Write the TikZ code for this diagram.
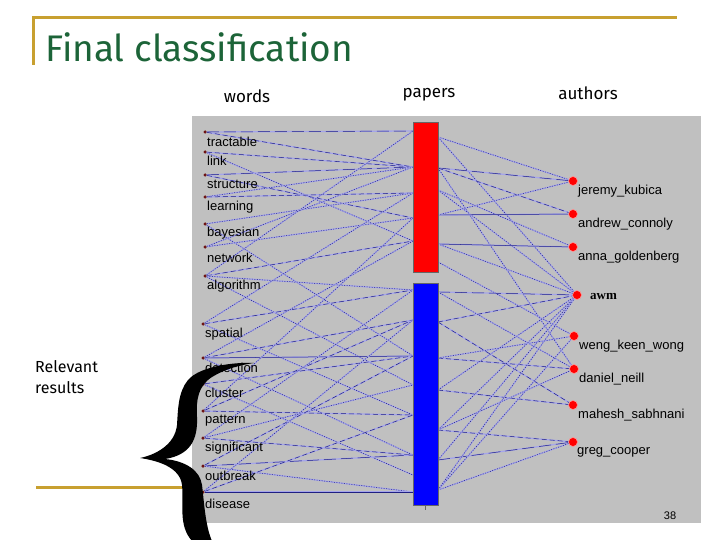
\documentclass[tikz,border=0pt]{standalone}
\usepackage{fontspec}
\setmainfont{Liberation Sans}
\newfontfamily\headfont{Fira Sans}
\newfontfamily\awmfont{Liberation Serif}
\definecolor{gold}{RGB}{200,160,48}
\definecolor{titlegreen}{RGB}{28,100,56}
\definecolor{panel}{RGB}{192,192,192}
\definecolor{navy}{RGB}{30,30,130}
\definecolor{lav}{RGB}{165,165,235}
\definecolor{dotred}{RGB}{110,20,20}
\tikzset{
  edge/.style={draw=navy, line width=0.5pt, preaction={draw=lav, solid, line width=1.3pt}},
  edot/.style={edge, dash pattern=on 1pt off 1.5pt},
  edash/.style={edge, dash pattern=on 5pt off 3pt},
  elong/.style={edge, dash pattern=on 12pt off 5pt},
  esolid/.style={edge},
  wdot/.style={circle, fill=dotred, inner sep=0pt, minimum size=3.5pt},
  wlabel/.style={anchor=west, inner sep=1pt, font=\fontsize{13}{13}\selectfont},
  adot/.style={circle, fill=red, draw=red!40!white, line width=0.6pt, inner sep=0pt, minimum size=9pt},
  alabel/.style={anchor=west, inner sep=1pt, font=\fontsize{13}{13}\selectfont},
  head/.style={font=\headfont\fontsize{17}{17}\selectfont, inner sep=0pt},
  barbox/.style={draw=black!60, line width=0.8pt, minimum width=25pt, inner sep=0pt}
}
\begin{document}
\begin{tikzpicture}[x=1pt,y=-1pt]
\useasboundingbox (0,0) rectangle (720,540);
\fill[white] (0,0) rectangle (720,540);
% gray panel
\fill[panel] (192,116) rectangle (701,523);
% bar attachment coordinates
\foreach \n/\y in {R1/131,R2/167,R3/193,R4/218,R5/241,R6/262,B1/290,B2/320,B3/356,B4/385,B5/415,B6/455,B7/475,B8/492}
  \coordinate (\n) at (413,\y);
\foreach \n/\y in {r1/137,r2/168,r3/190,r4/215,r5/244,r6/262,b1/292,b2/322,b3/358,b4/390,b5/430,b6/460,b7/490}
  \coordinate (\n) at (438,\y);
% word dots
\foreach \n/\x/\y in {w1/205/132,w2/205/152,w3/205/175,w4/205/197,w5/205/224,w6/205/247,w7/205/276,
  w8/203/324,w9/203/358,w10/203/384,w11/203/411,w12/203/438,w13/203/466,w14/203/492}
  \node[wdot] (\n) at (\x,\y) {};
% author dots
\node[adot] (J) at (573,181) {};
\node[adot] (A) at (573,214) {};
\node[adot] (AG) at (573,247) {};
\node[adot] (AWM) at (577,295) {};
\node[adot] (W) at (574,336) {};
\node[adot] (D) at (574,369) {};
\node[adot] (M) at (573,405) {};
\node[adot] (G) at (573,442) {};
% word -> bar edges
\foreach \a/\b/\s in {w1/R1/elong,w1/R2/edash,w2/R2/edash,w2/R5/edot,w3/R2/elong,w3/R4/edash,
  w4/R2/edot,w4/R3/edash,w5/R3/edot,w5/B3/edot,w6/R4/edot,w6/R2/edot,
  w7/R1/edot,w7/R5/edash,w7/B1/edot,w7/B4/edot,
  w8/B1/edash,w8/R3/edot,w8/B5/edot,
  w9/B3/esolid,w9/B2/edash,w9/R5/edot,w9/B6/edot,
  w10/B3/edash,w10/B7/edot,
  w11/B5/edash,w11/R4/edot,w11/B2/edash,
  w12/B6/edash,w12/B4/edot,w12/B1/edot,
  w13/B6/elong,w13/B3/edash,w13/B8/edot,
  w14/B8/esolid,w14/B5/edash,w14/B2/edot}
  \draw[\s] (\a) -- (\b);
% bar -> author edges
\foreach \a/\b/\s in {r1/J/edot,r1/AWM/edot,r2/J/elong,r2/D/edot,r2/A/edash,r3/AG/edot,r3/AWM/edot,
  r4/A/esolid,r4/J/edot,r5/AG/esolid,r5/AWM/edot,r6/W/edot,
  b1/AWM/elong,b1/D/edot,b2/AWM/edash,b2/M/edash,b3/W/edot,b3/D/edash,
  b4/AWM/edot,b4/M/edash,b5/D/edot,b5/G/edash,b5/AWM/edot,
  b6/AWM/edot,b6/G/elong,b7/G/edot,b7/W/edot,b7/AWM/edot}
  \draw[\s] (\a) -- (\b);
% bars
\node[barbox, fill=red, minimum height=150pt] (red) at (425.5,197) {};
\node[barbox, fill=blue, minimum height=222pt] (blue) at (425.5,394) {};
\draw[black!60, line width=0.6pt] (blue.south) -- ++(0,5);
% word labels
\foreach \t/\y in {tractable/142,link/161,structure/184,learning/207,bayesian/233,network/258,algorithm/286}
  \node[wlabel] at (206,\y) {\t};
\foreach \t/\y in {spatial/334,detection/368,cluster/393,pattern/421,significant/448,outbreak/476,disease/504}
  \node[wlabel] at (204,\y) {\t};
% author labels
\node[alabel] (lJ) at (577,191) {jeremy\_kubica};
\node[alabel] (lA) at (577,224) {andrew\_connoly};
\node[alabel] (lAG) at (577,257) {anna\_goldenberg};
\node[alabel, font=\awmfont\bfseries\fontsize{13}{13}\selectfont] (lAWM) at (589,296) {awm};
\node[alabel] (lW) at (578,346) {weng\_keen\_wong};
\node[alabel] (lD) at (578,379) {daniel\_neill};
\node[alabel] (lM) at (577,415) {mahesh\_sabhnani};
\node[alabel] (lG) at (576,452) {greg\_cooper};
% gold frame lines
\draw[gold, line width=3pt] (33,18) -- (677,18);
\draw[gold, line width=3pt] (33,16.5) -- (33,65);
\draw[gold, line width=3pt] (36,487) -- (190,487);
% brace
\fill[black] (254,363) .. controls (235,362) and (200,366) .. (188,380)
  .. controls (178,392) and (178,410) .. (177,425)
  .. controls (175,445) and (155,455) .. (140,458)
  .. controls (160,461) and (180,468) .. (182,485)
  .. controls (184,505) and (178,525) .. (192,541)
  -- (212,541)
  .. controls (205,525) and (204,500) .. (202,485)
  .. controls (200,470) and (185,461) .. (165,459)
  .. controls (190,455) and (198,440) .. (197,417)
  .. controls (196,400) and (198,386) .. (212,377)
  .. controls (225,369) and (240,365) .. (254,363) -- cycle;
% texts
\node[anchor=base west, inner sep=0pt, text=titlegreen, font=\headfont\fontsize{37}{37}\selectfont] (title) at (45,62) {Final classification};
\node[head] (hw) at (247,96) {words};
\node[head] (hp) at (429,95) {papers};
\node[head] (ha) at (588,93) {authors};
\node[anchor=west, inner sep=0pt, align=left, font=\headfont\fontsize{16}{21}\selectfont] (rel) at (35,377) {Relevant\\results};
\node[inner sep=0pt, font=\fontsize{11}{11}\selectfont] (pg) at (670,516) {38};
\end{tikzpicture}
\end{document}
